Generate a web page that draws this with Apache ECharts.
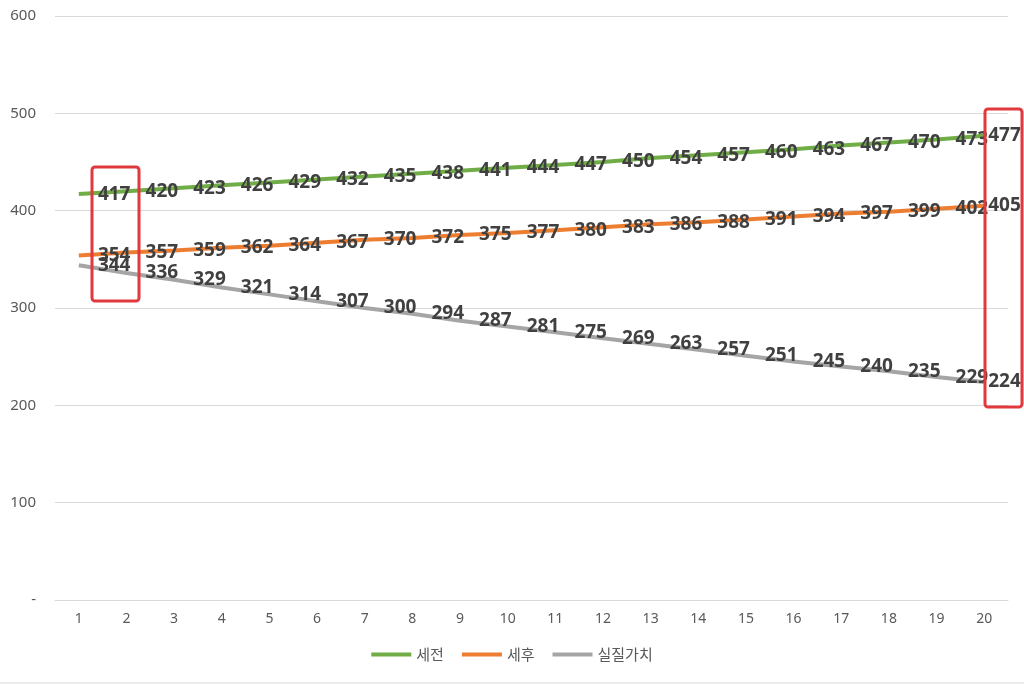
<!DOCTYPE html>
<html>
<head>
<meta charset="utf-8">
<script src="https://cdn.jsdelivr.net/npm/echarts@6/dist/echarts.min.js"></script>
<style>html,body{margin:0;padding:0;background:#fff}#c{width:1024px;height:685px}</style>
</head>
<body>
<div id="c"></div>
<script>
const categories = ['1','2','3','4','5','6','7','8','9','10','11','12','13','14','15','16','17','18','19','20'];
const pretax = [417,420,423,426,429,432,435,438,441,444,447,450,454,457,460,463,467,470,473,477];
const aftertax = [354,357,359,362,364,367,370,372,375,377,380,383,386,388,391,394,397,399,402,405];
const realValue = [344,336,329,321,314,307,300,294,287,281,275,269,263,257,251,245,240,235,229,224];
const seriesNames = ['세전','세후','실질가치'];
const colors = ['#70ad47','#ed7d31','#a5a5a5'];

const chart = echarts.init(document.getElementById('c'));
const font = '"Noto Sans", "Noto Sans CJK KR", sans-serif';

function toData(arr){
  return arr.map((v,i)=> i === arr.length-1 ? {value:v, label:{distance:4}} : v);
}

function mk(name, arr, color){
  return {
    name, type:'line', data: toData(arr), showSymbol:true, symbol:'circle', symbolSize:0.1,
    lineStyle:{color, width:4}, itemStyle:{color},
    label:{show:true, position:'right', distance:19, offset:[0,1], color:'#404040', fontWeight:'bold', fontSize:19, fontFamily:font},
    labelLayout:{hideOverlap:false},
    emphasis:{disabled:true}
  };
}

chart.setOption({
  animation:false,
  textStyle:{fontFamily:font},
  grid:{left:55, right:16, top:16, bottom:85},
  legend:{
    bottom:18, left:'center', icon:'rect', itemWidth:40, itemHeight:4, itemGap:18,
    textStyle:{color:'#595959', fontSize:15, fontFamily:'"Noto Sans CJK KR", sans-serif'},
    data: seriesNames
  },
  xAxis:{
    type:'category', data:categories, boundaryGap:true,
    axisLine:{lineStyle:{color:'#d9d9d9'}}, axisTick:{show:false},
    axisLabel:{color:'#595959', fontSize:14, margin:12}
  },
  yAxis:{
    type:'value', min:0, max:600, interval:100,
    axisLine:{show:false}, axisTick:{show:false},
    splitLine:{lineStyle:{color:'#d9d9d9', width:1}},
    axisLabel:{color:'#595959', fontSize:15, margin:19, formatter:v=> v===0 ? '-' : String(v)}
  },
  graphic:[
    {type:'rect', shape:{x:92, y:167, width:47, height:134, r:3}, style:{fill:'none', stroke:'#e0393e', lineWidth:3}, z:100},
    {type:'rect', shape:{x:985, y:109, width:37, height:298, r:3}, style:{fill:'none', stroke:'#e0393e', lineWidth:3}, z:100},
    {type:'line', shape:{x1:0, y1:683, x2:1024, y2:683}, style:{stroke:'#d9d9d9', lineWidth:1}}
  ],
  series:[
    mk(seriesNames[0], pretax, colors[0]),
    mk(seriesNames[1], aftertax, colors[1]),
    mk(seriesNames[2], realValue, colors[2])
  ]
});
</script>
</body>
</html>
